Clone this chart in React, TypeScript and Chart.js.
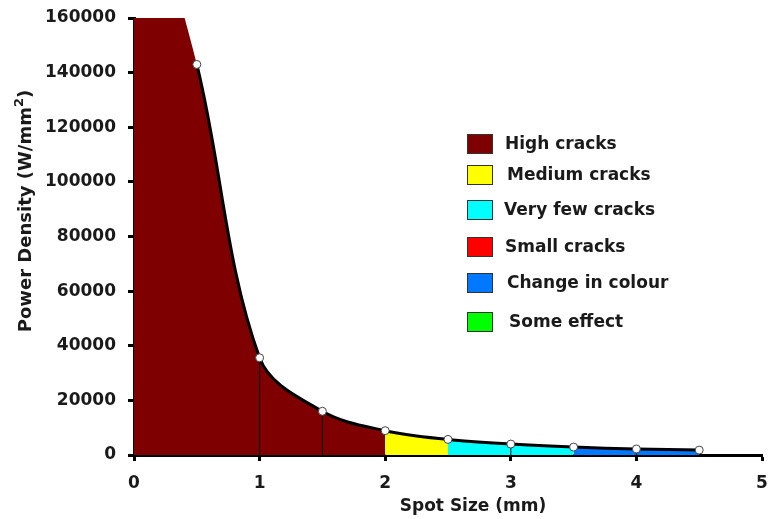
import React, { useEffect, useRef } from "react";
import { Chart, registerables } from "chart.js";

Chart.register(...registerables);

// ---- data ----
const spotSize = [0, 0.5, 1, 1.5, 2, 2.5, 3, 3.5, 4, 4.5];
const powerDensity = [222000, 143000, 35600, 16000, 8900, 5700, 4000, 2900, 2200, 1800];
// effect category for each interval between consecutive points
const intervalCategory = [
  "High cracks",
  "High cracks",
  "High cracks",
  "High cracks",
  "Medium cracks",
  "Very few cracks",
  "Very few cracks",
  "Change in colour",
  "Change in colour",
];
const dividerAt = [1, 1.5, 3, 4];
const legendLabels = [
  "High cracks",
  "Medium cracks",
  "Very few cracks",
  "Small cracks",
  "Change in colour",
  "Some effect",
];
const legendColors = ["#7f0000", "#ffff00", "#00ffff", "#ff0000", "#0078ff", "#00ff00"];
const xTicks = [0, 1, 2, 3, 4, 5];
const yTicks = [0, 20000, 40000, 60000, 80000, 100000, 120000, 140000, 160000];

// ---- style / layout ----
const FAMILY = "'DejaVu Sans', Verdana, sans-serif";
const TEXT = "#1a1a1a";
const TENSION = 0.35;
const legendRowY = [144, 175, 210, 247, 283, 322];
const legendTextX = [505, 507, 504, 505, 507, 509];

const colorOf = (cat: string) => legendColors[legendLabels.indexOf(cat)];

const overlay = {
  id: "overlay",
  afterDraw(chart: any) {
    const ctx = chart.ctx as CanvasRenderingContext2D;
    ctx.save();
    ctx.fillStyle = TEXT;
    ctx.textBaseline = "middle";

    // x title
    ctx.font = `bold 17px ${FAMILY}`;
    ctx.textAlign = "center";
    ctx.fillText("Spot Size (mm)", 473, 507);

    // y title with superscript
    ctx.save();
    ctx.translate(26, 211);
    ctx.rotate(-Math.PI / 2);
    const mainFont = `bold 18px ${FAMILY}`;
    const supFont = `bold 13px ${FAMILY}`;
    const p1 = "Power Density (W/mm";
    const p2 = "2";
    const p3 = ")";
    ctx.font = mainFont;
    const w1 = ctx.measureText(p1).width;
    const w3 = ctx.measureText(p3).width;
    ctx.font = supFont;
    const w2 = ctx.measureText(p2).width;
    const total = w1 + w2 + w3;
    let x = -total / 2;
    ctx.textAlign = "left";
    ctx.font = mainFont;
    ctx.fillText(p1, x, 0);
    x += w1;
    ctx.font = supFont;
    ctx.fillText(p2, x, -6);
    x += w2;
    ctx.font = mainFont;
    ctx.fillText(p3, x, 0);
    ctx.restore();

    // legend
    ctx.font = `bold 17px ${FAMILY}`;
    ctx.textAlign = "left";
    legendLabels.forEach((lab, i) => {
      const y = legendRowY[i];
      ctx.fillStyle = legendColors[i];
      ctx.fillRect(467, y - 10, 26, 20);
      ctx.strokeStyle = "#333";
      ctx.lineWidth = 1;
      ctx.strokeRect(467.5, y - 9.5, 25, 19);
      ctx.fillStyle = TEXT;
      ctx.fillText(lab, legendTextX[i], y + 1);
    });
    ctx.restore();
  },
};

export default function App() {
  const ref = useRef<HTMLCanvasElement | null>(null);

  useEffect(() => {
    if (!ref.current) return;
    const mainData = spotSize.map((x, i) => ({ x, y: powerDensity[i] }));
    const dividerSets = dividerAt.map((dx) => {
      const idx = spotSize.indexOf(dx);
      return {
        data: [
          { x: dx, y: 0 },
          { x: dx, y: powerDensity[idx] },
        ],
        borderColor: "#000",
        borderWidth: 1,
        pointRadius: 0,
        fill: false,
        tension: 0,
      };
    });

    const chart = new Chart(ref.current, {
      type: "line",
      data: {
        datasets: [
          // outline + markers
          {
            data: mainData,
            borderColor: "#000",
            borderWidth: 3,
            fill: false,
            tension: TENSION,
            pointRadius: (c: any) => (c.dataIndex === 0 ? 0 : 4),
            pointBackgroundColor: "#fff",
            pointBorderColor: "#444",
            pointBorderWidth: 1,
            segment: {
              borderColor: (c: any) => (c.p0DataIndex === 0 ? "rgba(0,0,0,0)" : "#000"),
            },
          } as any,
          ...(dividerSets as any[]),
          // coloured area
          {
            data: mainData,
            borderWidth: 0,
            borderColor: "rgba(0,0,0,0)",
            backgroundColor: legendColors[0],
            fill: "origin",
            tension: TENSION,
            pointRadius: 0,
            segment: {
              backgroundColor: (c: any) => colorOf(intervalCategory[c.p0DataIndex]),
            },
          } as any,
        ],
      },
      options: {
        responsive: false,
        devicePixelRatio: 1,
        animation: false,
        layout: { padding: { top: 18, right: 8, left: 0, bottom: 0 } },
        plugins: {
          legend: { display: false },
          tooltip: { enabled: false },
          filler: { drawTime: "beforeDatasetsDraw" },
        } as any,
        scales: {
          x: {
            type: "linear",
            min: 0,
            max: 5,
            afterBuildTicks: (s: any) => {
              s.ticks = xTicks.map((v) => ({ value: v }));
            },
            afterFit: (s: any) => {
              s.height = 64;
              s.paddingLeft = 0;
              s.paddingRight = 0;
            },
            border: { display: true, color: "#000", width: 3 },
            grid: { drawOnChartArea: false, drawTicks: true, tickLength: 6, tickWidth: 3, tickColor: "#000" },
            ticks: {
              color: TEXT,
              font: { family: FAMILY, size: 17, weight: "bold" },
              padding: 12,
              callback: (v: any) => String(v),
            },
          },
          y: {
            type: "linear",
            min: 0,
            max: 160000,
            afterBuildTicks: (s: any) => {
              s.ticks = yTicks.map((v) => ({ value: v }));
            },
            afterFit: (s: any) => {
              s.width = 134;
              s.paddingTop = 0;
              s.paddingBottom = 0;
            },
            border: { display: true, color: "#000", width: 3 },
            grid: { drawOnChartArea: false, drawTicks: true, tickLength: 6, tickWidth: 3, tickColor: "#000" },
            ticks: {
              color: TEXT,
              font: { family: FAMILY, size: 17, weight: "bold" },
              padding: 12,
              callback: (v: any) => String(v),
            },
          },
        },
      } as any,
      plugins: [overlay],
    });
    return () => chart.destroy();
  }, []);

  return (
    <div style={{ position: "fixed", left: 0, top: 0, width: 770, height: 519, background: "#fff" }}>
      <canvas ref={ref} width={770} height={519} />
    </div>
  );
}
